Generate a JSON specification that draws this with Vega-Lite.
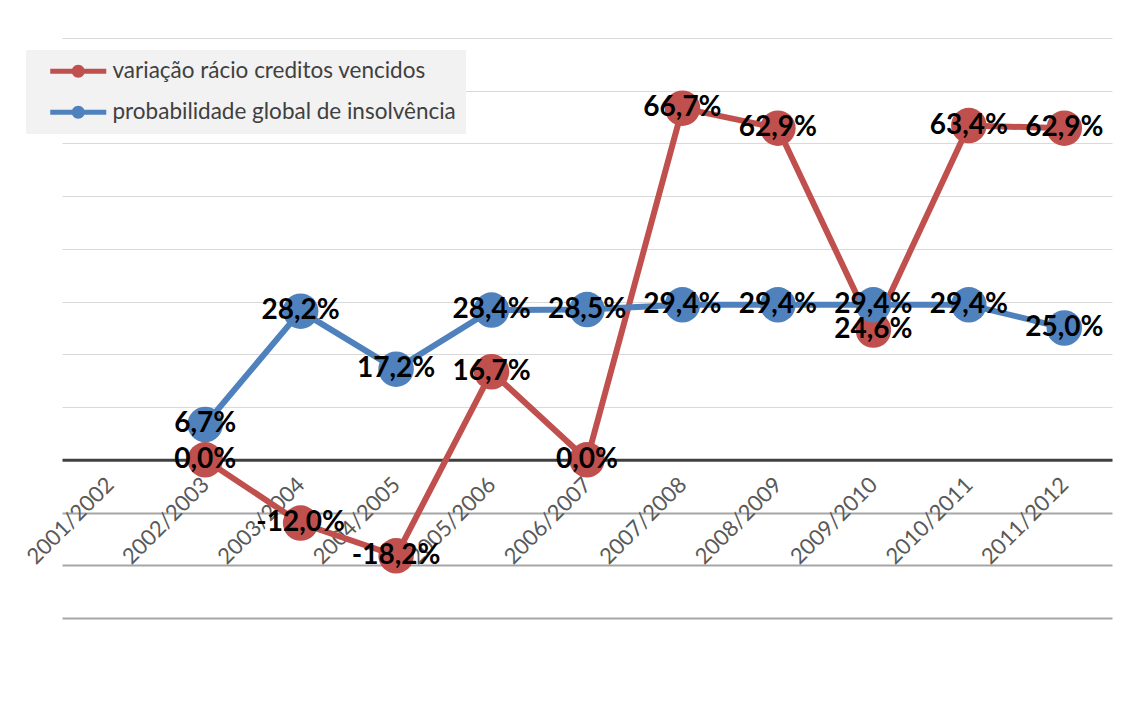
{
  "$schema": "https://vega.github.io/schema/vega-lite/v6.json",
  "width": 1050,
  "height": 580,
  "autosize": "none",
  "padding": {"left": 62, "top": 38, "right": 22, "bottom": 86},
  "background": "white",
  "config": {
    "locale": {
      "number": {"decimal": ",", "thousands": ".", "grouping": [3], "currency": ["", " €"], "minus": "-"}
    },
    "view": {"stroke": null},
    "font": "Lato",
    "legend": {
      "title": null,
      "orient": "none",
      "legendX": -36,
      "legendY": 12,
      "fillColor": "#f2f2f2",
      "padding": 10,
      "symbolType": "M0.3,-0.25L5.9,-0.25L5.9,0.25L0.3,0.25Z M3.75,0A0.65,0.65,0,1,1,2.45,0A0.65,0.65,0,1,1,3.75,0Z",
      "symbolSize": 400,
      "symbolStrokeWidth": 0,
      "symbolOpacity": 1,
      "labelFont": "Lato",
      "labelFontSize": 22.5,
      "labelColor": "#404040",
      "labelOffset": 54,
      "labelLimit": 500,
      "rowPadding": 18
    }
  },
  "data": {
    "values": [
      {"ano": "2002/2003", "serie": "variação rácio creditos vencidos", "valor": 0.0},
      {"ano": "2003/2004", "serie": "variação rácio creditos vencidos", "valor": -0.12},
      {"ano": "2004/2005", "serie": "variação rácio creditos vencidos", "valor": -0.182},
      {"ano": "2005/2006", "serie": "variação rácio creditos vencidos", "valor": 0.167},
      {"ano": "2006/2007", "serie": "variação rácio creditos vencidos", "valor": 0.0},
      {"ano": "2007/2008", "serie": "variação rácio creditos vencidos", "valor": 0.667},
      {"ano": "2008/2009", "serie": "variação rácio creditos vencidos", "valor": 0.629},
      {"ano": "2009/2010", "serie": "variação rácio creditos vencidos", "valor": 0.246},
      {"ano": "2010/2011", "serie": "variação rácio creditos vencidos", "valor": 0.634},
      {"ano": "2011/2012", "serie": "variação rácio creditos vencidos", "valor": 0.629},
      {"ano": "2002/2003", "serie": "probabilidade global de insolvência", "valor": 0.067},
      {"ano": "2003/2004", "serie": "probabilidade global de insolvência", "valor": 0.282},
      {"ano": "2004/2005", "serie": "probabilidade global de insolvência", "valor": 0.172},
      {"ano": "2005/2006", "serie": "probabilidade global de insolvência", "valor": 0.284},
      {"ano": "2006/2007", "serie": "probabilidade global de insolvência", "valor": 0.285},
      {"ano": "2007/2008", "serie": "probabilidade global de insolvência", "valor": 0.294},
      {"ano": "2008/2009", "serie": "probabilidade global de insolvência", "valor": 0.294},
      {"ano": "2009/2010", "serie": "probabilidade global de insolvência", "valor": 0.294},
      {"ano": "2010/2011", "serie": "probabilidade global de insolvência", "valor": 0.294},
      {"ano": "2011/2012", "serie": "probabilidade global de insolvência", "valor": 0.25}
    ]
  },
  "encoding": {
    "x": {
      "field": "ano",
      "type": "ordinal",
      "scale": {
        "type": "point",
        "padding": 0.5,
        "domain": ["2001/2002", "2002/2003", "2003/2004", "2004/2005", "2005/2006", "2006/2007", "2007/2008", "2008/2009", "2009/2010", "2010/2011", "2011/2012"]
      },
      "axis": {
        "title": null,
        "offset": -158.18,
        "domainColor": "#404040",
        "domainWidth": 3,
        "ticks": false,
        "grid": false,
        "labelAngle": -45,
        "labelAlign": "right",
        "labelBaseline": "middle",
        "labelPadding": 21,
        "labelFont": "Lato",
        "labelFontSize": 22,
        "labelColor": "#595959"
      }
    },
    "y": {
      "field": "valor",
      "type": "quantitative",
      "scale": {"domain": [-0.3, 0.8], "nice": false, "zero": false},
      "axis": {
        "title": null,
        "values": [-0.3, -0.2, -0.1, 0.1, 0.2, 0.3, 0.4, 0.5, 0.6, 0.7, 0.8],
        "labels": false,
        "ticks": false,
        "domain": false,
        "grid": true,
        "gridColor": {"condition": {"test": "datum.value < 0", "value": "#a6a6a6"}, "value": "#d9d9d9"},
        "gridWidth": {"condition": {"test": "datum.value < 0", "value": 2}, "value": 1.2}
      }
    },
    "color": {
      "field": "serie",
      "type": "nominal",
      "scale": {
        "domain": ["variação rácio creditos vencidos", "probabilidade global de insolvência"],
        "range": ["#C0504D", "#4F81BD"]
      },
      "legend": {
        "encode": {
          "symbols": {
            "update": {
              "fill": {"scale": "color", "field": "value"},
              "stroke": {"value": "transparent"},
              "strokeWidth": {"value": 0}
            }
          }
        }
      }
    }
  },
  "layer": [
    {
      "mark": {"type": "line", "strokeWidth": 6, "strokeJoin": "round", "strokeCap": "round"}
    },
    {
      "mark": {"type": "point", "filled": true, "size": 1260, "opacity": 1}
    },
    {
      "mark": {"type": "text", "font": "Lato", "fontWeight": "bold", "fontSize": 28, "align": "center", "baseline": "middle"},
      "encoding": {
        "color": {"value": "black"},
        "text": {"field": "valor", "type": "quantitative", "format": ".1%"}
      }
    }
  ]
}
